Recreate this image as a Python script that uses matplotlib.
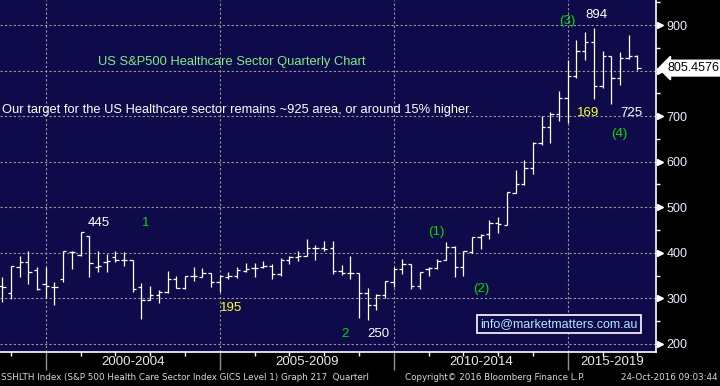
import matplotlib.pyplot as plt
import numpy as np
from matplotlib import transforms

plt.rcParams['font.family'] = ['Liberation Sans', 'DejaVu Sans']

# quarterly OHLC, 1998 Q3 .. 2016 Q4
opens = [328, 311, 368, 381, 363, 332, 326, 342, 401, 396, 436, 368, 380, 390, 385, 385, 324, 296, 308, 313,
         342, 323, 350, 348, 355, 335, 347, 349, 361, 366, 368, 372, 353, 385, 391, 392, 410, 411, 410, 361,
         355, 355, 311, 285, 307, 337, 364, 375, 328, 364, 366, 384, 412, 369, 402, 434, 441, 465, 462, 532,
         551, 586, 642, 676, 705, 739, 789, 842, 862, 766, 831, 783, 827, 833]
highs = [348, 371, 394, 403, 368, 369, 335, 403, 404, 445, 436, 405, 397, 403, 401, 385, 334, 328, 319, 361,
         350, 350, 370, 366, 355, 352, 358, 368, 377, 377, 383, 375, 388, 394, 405, 430, 418, 427, 427, 374,
         392, 355, 322, 309, 339, 369, 386, 375, 359, 369, 387, 423, 415, 405, 434, 442, 471, 478, 533, 582,
         603, 643, 700, 709, 755, 823, 868, 885, 894, 844, 832, 840, 878, 834]
lows = [293, 299, 347, 332, 319, 301, 286, 337, 365, 392, 348, 359, 357, 379, 372, 313, 255, 296, 290, 312,
        322, 320, 339, 348, 326, 313, 342, 345, 359, 347, 366, 343, 350, 376, 382, 392, 385, 404, 354, 352,
        343, 258, 253, 274, 301, 326, 353, 321, 321, 350, 365, 384, 346, 350, 400, 409, 431, 444, 462, 532,
        549, 574, 636, 642, 690, 685, 784, 824, 738, 761, 726, 768, 825, 802]
closes = [324, 371, 381, 359, 321, 328, 326, 403, 401, 445, 377, 372, 383, 385, 384, 320, 296, 308, 313, 342,
          323, 350, 350, 355, 335, 350, 349, 363, 364, 366, 372, 353, 385, 391, 392, 410, 411, 409, 361, 355,
          355, 311, 285, 307, 338, 364, 375, 328, 358, 366, 383, 412, 369, 403, 434, 440, 465, 464, 533, 551,
          586, 642, 676, 705, 739, 789, 842, 862, 766, 831, 783, 827, 833, 805.4576]

period_labels = ['2000-2004', '2005-2009', '2010-2014', '2015-2019']
period_pos = [15, 35, 55, 70.1]
period_starts = [5, 25, 45, 65]
year_ticks = [1, 9, 13, 17, 21, 29, 33, 37, 41, 49, 53, 57, 61, 69, 73]
price_ticks = [200, 300, 400, 500, 600, 700, 800, 900]
price_labels = ['200', '300', '400', '500', '600', '700', '', '900']  # 800 hidden under last-price flag

notes = [('445', 11.1, 465, 'white'), ('1', 16.5, 465, '#00dd00'), ('195', 26.3, 279, '#ffff30'),
         ('2', 39.4, 222, '#00dd00'), ('250', 43.2, 222, 'white'), ('(1)', 49.9, 446, '#00dd00'),
         ('(2)', 55.0, 321, '#00dd00'), ('(3)', 64.9, 909, '#00dd00'), ('894', 68.3, 922, 'white'),
         ('169', 67.3, 707, '#ffff30'), ('725', 72.3, 707, 'white'), ('(4)', 70.9, 661, '#00dd00')]

navy = '#0f0b4a'
fig = plt.figure(figsize=(7.2, 3.86), dpi=100, facecolor='black')
ax = fig.add_axes([0, 34 / 386, 656 / 720, 352 / 386])
ax.set_facecolor(navy)

x = np.arange(len(opens))
w = 0.38
ax.vlines(x, lows, highs, color='white', lw=0.9)
ax.hlines(opens, x - w, x, color='white', lw=0.9)
ax.hlines(closes, x, x + w, color='white', lw=0.9)

ax.set_xlim(-0.26, 75.14)
ax.set_ylim(182.4, 954.9)

for sp in ['left', 'top']:
    ax.spines[sp].set_visible(False)
for sp in ['right', 'bottom']:
    ax.spines[sp].set_color('white')
    ax.spines[sp].set_linewidth(1.2)

# grid
for v in price_ticks:
    ax.axhline(v, color='#9a9a9a', lw=0.8, ls=(0, (2, 2)), zorder=0)
for p in period_starts:
    ax.axvline(p, color='#9a9a9a', lw=0.8, ls=(0, (2, 2)), zorder=0)

# right axis
ax.yaxis.tick_right()
ax.set_yticks(price_ticks, price_labels)
ax.set_yticks(range(250, 951, 100), minor=True)
ax.tick_params(axis='y', which='major', length=0, pad=7.5, labelsize=9, labelcolor='#e8f0ff')
ax.tick_params(axis='y', which='minor', length=3, width=1, color='white', direction='out')
trans = transforms.blended_transform_factory(ax.transAxes, ax.transData) + \
    transforms.ScaledTranslation(4 / 100, 0, fig.dpi_scale_trans)
yt = np.array(price_ticks)
ax.plot(np.ones(len(yt)), yt, '>', ms=4.5, color='white', transform=trans, clip_on=False)

# x axis
ax.set_xticks(period_starts)
ax.set_xticks(year_ticks, minor=True)
ax.tick_params(axis='x', which='major', length=13, width=1, color='#909090', labelbottom=False)
ax.tick_params(axis='x', which='minor', length=3, width=1, color='white')
for lab, p in zip(period_labels, period_pos):
    ax.annotate(lab, (p, 0), xycoords=('data', 'axes fraction'), xytext=(0, -7.5),
                textcoords='offset points', ha='center', va='center', color='#e8e8e8', fontsize=9.5,
                annotation_clip=False)

# chart text
ax.text(11.0, 819, 'US S&P500 Healthcare Sector Quarterly Chart', color='#80ec80', fontsize=9.3,
        ha='left', va='center')
ax.text(0.0, 713, 'Our target for the US Healthcare sector remains ~925 area, or around 15% higher.',
        color='white', fontsize=9.3, ha='left', va='center')
for t, px, py, c in notes:
    ax.text(px, py, t, color=c, fontsize=9.5, ha='center', va='center')

ax.text(64.0, 244, 'info@marketmatters.com.au', color='#b0e8ff', fontsize=9, ha='center', va='center',
        bbox=dict(boxstyle='square,pad=0.25', fc=navy, ec='white', lw=1.2))

# last price flag
ax.annotate('805.4576', (1, closes[-1]), xycoords=('axes fraction', 'data'), xytext=(8, 0),
            textcoords='offset points', ha='left', va='center', fontsize=9, color='black',
            bbox=dict(boxstyle='larrow,pad=0.15', fc='white', ec='white'), annotation_clip=False)

# footer
fig.text(0.002, 0.021, 'SSHLTH Index (S&P 500 Health Care Sector Index GICS Level 1) Graph 217  Quarterl',
         color='#d8d8d8', fontsize=6.3, family='DejaVu Sans', va='center', ha='left')
fig.text(0.563, 0.021, 'Copyright\u00a9 2016 Bloomberg Finance L.P.', color='#d8d8d8', fontsize=6.3,
         family='DejaVu Sans', va='center', ha='left')
fig.text(0.997, 0.021, '24-Oct-2016 09:03:44', color='#d8d8d8', fontsize=6.3,
         family='DejaVu Sans', va='center', ha='right')

plt.savefig('out.png', dpi=100, facecolor='black')
